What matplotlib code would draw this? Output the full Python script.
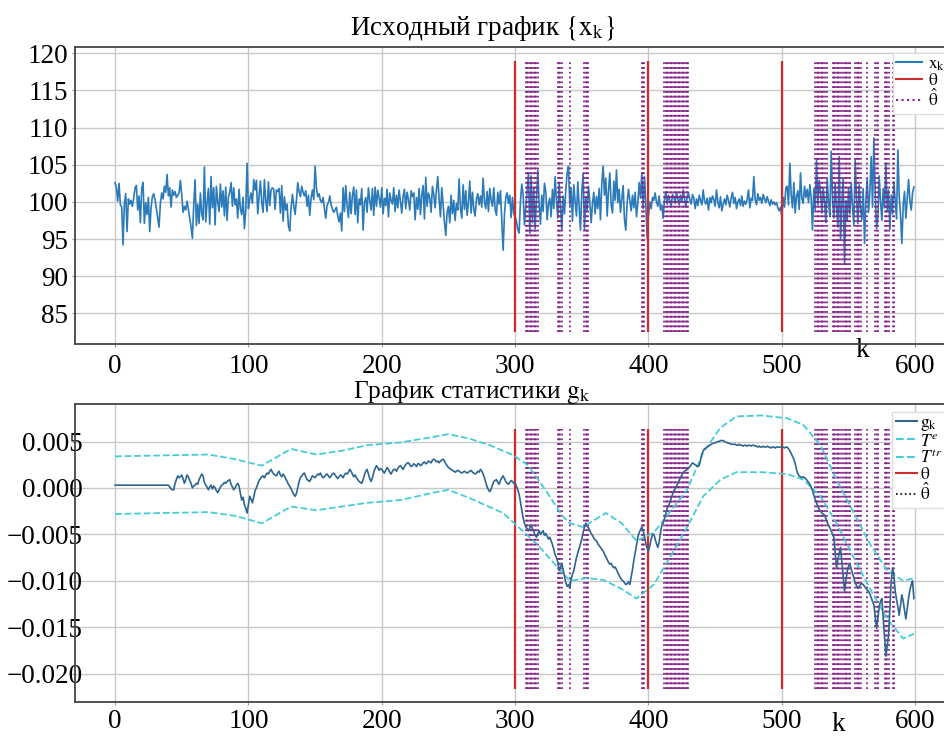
import numpy as np
import matplotlib
matplotlib.use("Agg")
import matplotlib.pyplot as plt
from matplotlib.lines import Line2D

plt.rcParams['font.family'] = ['Liberation Serif', 'DejaVu Serif']
plt.rcParams['mathtext.fontset'] = 'stix'
plt.rcParams['axes.unicode_minus'] = True

# ---- observed series x_k, k = 0..599 ----
x_values = [
    102.6, 101.9, 100.1, 102.5, 99.6, 99.3, 94.2, 99.8, 101.1, 96.0, 100.4, 99.7, 100.2, 99.4, 100.5, 101.9, 102.2, 98.9, 100.8, 97.2,
    101.8, 102.6, 97.1, 99.9, 98.3, 100.6, 96.0, 99.2, 100.7, 101.1, 100.3, 99.1, 97.9, 96.6, 99.8, 101.2, 100.4, 102.1, 101.3, 103.7,
    100.8, 101.9, 99.3, 101.6, 100.9, 101.4, 100.6, 100.9, 101.2, 102.9, 101.0, 98.6, 99.4, 98.9, 100.1, 99.0, 97.8, 96.6, 95.1, 99.5,
    103.0, 96.8, 99.7, 97.1, 101.2, 98.4, 97.6, 104.7, 97.3, 99.9, 101.8, 97.0, 103.4, 99.2, 101.9, 96.9, 102.1, 100.0, 98.7, 102.4,
    99.3, 101.5, 98.1, 102.0, 97.5, 100.6, 101.3, 102.6, 99.4, 101.9, 99.6, 100.4, 97.8, 101.7, 99.0, 98.3, 100.6, 96.4, 98.8, 105.2,
    99.1, 100.3, 101.2, 99.8, 103.0, 101.6, 102.9, 98.4, 100.8, 102.8, 99.9, 98.6, 103.0, 100.2, 98.7, 102.7, 99.5, 101.6, 101.9, 101.7,
    99.0, 101.6, 101.4, 101.8, 98.5, 102.2, 97.4, 100.7, 98.9, 99.7, 96.8, 96.1, 99.2, 101.0, 99.5, 98.3, 100.2, 102.6, 101.4, 100.7,
    102.1, 101.3, 100.8, 101.5, 99.4, 100.9, 98.2, 100.5, 101.6, 100.3, 104.8, 101.9, 100.7, 101.1, 100.2, 99.9, 100.6, 99.1, 97.8, 99.6,
    99.9, 100.8, 99.7, 99.0, 98.6, 98.9, 99.3, 98.1, 97.3, 98.5, 96.1, 101.9, 98.7, 102.2, 99.5, 97.9, 101.3, 98.4, 100.9, 102.0,
    98.3, 101.6, 97.2, 100.4, 99.6, 101.8, 96.2, 99.9, 100.6, 98.6, 101.9, 100.2, 98.9, 101.8, 98.2, 102.0, 99.4, 101.6, 100.5, 99.3,
    101.9, 98.4, 100.5, 99.5, 101.7, 98.0, 101.2, 100.2, 99.7, 101.9, 98.7, 100.9, 99.2, 101.6, 100.0, 98.5, 100.8, 101.7, 99.1, 101.3,
    100.3, 98.9, 101.5, 100.7, 101.2, 97.6, 100.6, 99.0, 101.8, 98.3, 100.9, 102.2, 97.7, 103.3, 99.4, 101.2, 100.5, 98.6, 102.1, 101.0,
    99.2, 101.6, 103.4, 100.4, 98.0, 101.9, 99.5, 97.3, 95.5, 98.6, 99.4, 97.2, 100.9, 98.4, 100.2, 97.5, 99.8, 98.9, 103.1, 99.2,
    97.8, 102.3, 99.0, 101.5, 98.2, 99.9, 102.8, 98.5, 101.3, 99.0, 98.1, 100.4, 101.1, 99.6, 100.8, 99.3, 103.2, 100.0, 99.1, 101.4,
    98.7, 101.8, 100.2, 99.4, 101.9, 99.0, 98.2, 101.3, 99.7, 101.5, 97.5, 93.5, 98.3, 100.6, 101.2, 99.8, 100.9, 97.9, 100.6, 98.4,
    98.0, 97.4, 96.3, 95.8, 100.1, 102.4, 100.9, 96.9, 99.3, 101.6, 103.9, 95.8, 103.5, 97.2, 101.8, 96.4, 100.4, 104.3, 99.6, 97.0,
    100.9, 98.7, 102.5, 101.4, 97.6, 99.8, 100.5, 98.0, 101.7, 99.1, 103.4, 100.2, 97.8, 102.6, 99.3, 96.2, 100.8, 98.4, 101.6, 103.9,
    104.8, 99.5, 101.9, 97.4, 102.3, 100.0, 98.1, 102.7, 99.3, 96.2, 101.4, 103.9, 96.2, 100.6, 98.9, 102.1, 100.0, 97.2, 99.8, 101.3,
    98.4, 100.7, 99.1, 101.8, 97.6, 102.5, 104.8, 100.9, 103.2, 98.1, 101.5, 103.9, 99.6, 98.5, 102.8, 100.2, 104.3, 99.9, 101.7, 98.6,
    100.4, 102.2, 97.6, 96.2, 99.9, 101.7, 100.3, 98.8, 100.9, 99.2, 101.3, 98.0, 99.8, 102.6, 100.5, 103.9, 99.1, 103.4, 99.6, 95.1,
    98.2, 100.0, 99.1, 100.6, 100.2, 101.2, 100.0, 99.4, 100.8, 98.9, 99.6, 97.8, 100.3, 101.4, 99.7, 100.9, 100.2, 99.4, 101.0, 100.6,
    99.8, 101.3, 100.4, 99.6, 100.9, 100.1, 101.6, 100.4, 99.3, 100.7, 101.2, 100.3, 99.7, 101.0, 100.5, 99.1, 100.4, 99.5, 100.9, 100.2,
    99.6, 101.6, 100.1, 99.7, 100.5, 98.9, 100.6, 99.9, 100.8, 100.3, 99.4, 101.6, 100.0, 99.2, 100.7, 98.8, 99.7, 100.4, 99.6, 100.9,
    100.2, 99.3, 100.5, 101.3, 99.8, 100.6, 99.1, 100.0, 100.4, 99.5, 100.8, 99.4, 100.1, 99.7, 100.3, 101.6, 99.2, 100.5, 100.2, 103.4,
    100.3, 99.6, 101.1, 100.2, 100.6, 99.8, 101.0, 100.4, 99.9, 100.7, 100.1, 99.5, 100.3, 99.7, 100.0, 99.6, 99.9, 99.2, 98.8, 99.3,
    98.0, 100.6, 99.3, 101.9, 102.1, 99.6, 105.2, 101.0, 99.2, 102.6, 98.5, 100.8, 101.5, 99.0, 103.9, 100.4, 99.8, 102.1, 100.6, 101.7,
    99.9, 102.3, 100.5, 96.2, 101.8, 98.9, 105.7, 99.6, 102.9, 101.4, 98.5, 101.8, 100.1, 97.2, 103.1, 99.9, 98.0, 106.8, 100.3, 97.8,
    102.5, 99.2, 96.6, 106.1, 94.9, 99.8, 103.2, 91.7, 100.2, 97.4, 101.9, 98.4, 102.6, 99.3, 96.8, 105.7, 100.4, 97.1, 102.3, 99.0,
    97.6, 101.8, 94.4, 100.2, 103.1, 98.6, 101.4, 106.1, 99.3, 108.6, 101.2, 96.4, 97.9, 103.5, 100.1, 97.5, 101.8, 99.2, 105.2, 98.7,
    101.6, 96.3, 100.9, 98.4, 102.7, 100.2, 97.7, 107.0, 100.8, 98.2, 94.4, 99.6, 101.4, 97.8, 100.5, 103.0, 100.2, 98.9, 101.2, 102.0,
]

# ---- statistic g_k (units of 1e-4), k = 0..599 ----
g_values_e4 = [3] * 40 + [
    3, 1, -1, -2, -2, 5, 9, 13, 11, 12, 14, 10, 5, 9, 14, 12, 8, 5, 0, 2,
    3, 5, 4, 9, 12, 15, 13, 6, 3, 1, -2, 1, 3, -1, 2, 0, -3, -5, -2, 1,
    3, 4, 6, 5, 7, 8, 9, 4, 1, -2, 0, 3, 5, 2, -6, -13, -10, -18, -22, -27,
    -18, -9, -12, -16, -10, -3, 0, 4, 8, 10, 12, 13, 11, 14, 16, 15, 18, 20, 17, 15,
    14, 13, 16, 18, 14, 12, 15, 13, 10, 7, 4, 2, -1, -4, -7, -9, -6, 0, 7, 11,
    13, 15, 16, 12, 9, 8, 7, 10, 13, 12, 11, 13, 15, 14, 16, 13, 11, 12, 14, 15,
    13, 11, 13, 15, 16, 14, 12, 10, 12, 14, 13, 11, 14, 16, 15, 17, 20, 18, 15, 12,
    14, 11, 9, 7, 6, 5, 9, 14, 18, 20, 15, 10, 7, 11, 17, 21, 24, 22, 19, 21,
    20, 18, 16, 19, 22, 20, 17, 15, 18, 20, 20, 18, 21, 23, 24, 22, 20, 23, 25, 27,
    27, 25, 23, 24, 26, 25, 23, 26, 26, 24, 25, 27, 28, 26, 27, 29, 28, 27, 30, 31,
    30, 28, 29, 27, 29, 30, 31, 29, 26, 24, 22, 21, 20, 19, 18, 17, 18, 19, 18, 17,
    16, 17, 18, 17, 16, 17, 18, 19, 17, 16, 15, 16, 18, 17, 20, 18, 15, 11, 6, 1,
    -2, -4, -1, 3, 7, 8, 9, 6, 4, 8, 11, 13, 10, 7, 5, 4, 6, 8, 7, 5,
    5, 2, -2, -7, -15, -24, -32, -38, -42, -44, -46, -43, -40, -44, -47, -51, -53, -49, -46, -50,
    -48, -46, -51, -49, -52, -55, -53, -57, -61, -66, -72, -75, -80, -89, -85, -82, -88, -95, -102, -106,
    -104, -108, -98, -93, -89, -82, -75, -70, -65, -60, -55, -48, -42, -38, -41, -43, -46, -49, -51, -54,
    -56, -57, -60, -62, -64, -66, -68, -71, -74, -77, -80, -82, -81, -84, -86, -85, -88, -91, -94, -97,
    -99, -100, -102, -104, -103, -101, -104, -96, -88, -78, -70, -62, -53, -48, -45, -42, -46, -52, -60, -65,
    -68, -62, -55, -50, -50, -55, -60, -64, -58, -48, -40, -38, -33, -28, -22, -19, -16, -11, -7, -3,
    -1, 2, 5, 8, 11, 14, 16, 18, 19, 20, 21, 23, 25, 27, 26, 25, 24, 23, 24, 30,
    36, 40, 42, 43, 44, 45, 46, 47, 48, 48, 49, 49, 50, 50, 51, 51, 51, 50, 49, 49,
    48, 48, 47, 47, 47, 47, 46, 46, 47, 46, 46, 45, 46, 46, 45, 46, 46, 45, 46, 46,
    45, 45, 44, 45, 44, 44, 45, 44, 44, 45, 44, 44, 43, 44, 44, 43, 44, 44, 44, 44,
    44, 44, 43, 44, 44, 42, 40, 37, 34, 31, 26, 20, 15, 13, 12, 11, 12, 11, 10, 8,
    6, 4, 1, -3, -8, -12, -16, -20, -23, -25, -27, -28, -29, -33, -37, -40, -43, -46, -50, -53,
    -70, -86, -78, -70, -64, -80, -95, -111, -100, -90, -84, -82, -87, -92, -97, -102, -105, -108, -106, -104,
    -103, -104, -106, -108, -110, -111, -114, -118, -122, -126, -138, -151, -140, -128, -122, -119, -140, -160, -181, -170,
    -159, -130, -100, -86, -95, -111, -120, -128, -137, -126, -115, -122, -132, -141, -130, -119, -110, -104, -100, -119,
]

# ---- thresholds (units of 1e-4) at selected k ----
te_k = [0, 70, 90, 110, 132, 151, 170, 189, 214, 239, 250, 266, 281, 299, 310, 324, 336, 341, 351, 368,
        380, 391, 404, 416, 429, 441, 454, 466, 485, 504, 516, 529, 541, 554, 566, 579, 591, 599]
te_e4 = [34, 36, 31, 24, 42, 36, 40, 46, 49, 55, 58, 53, 46, 35, 24, -5, -31, -38, -42, -27,
         -38, -57, -48, -26, -2, 38, 65, 77, 78, 75, 68, 46, 9, -27, -60, -89, -100, -97]
ttr_k = [0, 70, 90, 110, 132, 151, 170, 189, 214, 239, 250, 266, 291, 316, 341, 354, 366, 379, 391, 404,
         416, 429, 441, 454, 466, 485, 504, 516, 529, 541, 554, 566, 579, 591, 599]
ttr_e4 = [-28, -26, -30, -38, -20, -24, -20, -16, -13, -5, -2, -11, -27, -60, -100, -97, -99, -108, -119, -104,
          -75, -42, -9, 9, 17, 17, 15, 9, -9, -38, -75, -108, -141, -162, -157]

# ---- true and estimated change points ----
theta = [300, 400, 500]
theta_hat = (list(range(308, 318)) + list(range(332, 336)) + [341] + list(range(352, 356))
             + list(range(395, 398)) + list(range(412, 431)) + list(range(525, 533)) + [534]
             + list(range(538, 545)) + list(range(546, 552)) + list(range(555, 560)) + [564]
             + list(range(570, 573)) + list(range(577, 581)) + [583, 584])

x = np.array(x_values)
k = np.arange(len(x))
g = np.array(g_values_e4) * 1e-4
kg = np.arange(len(g))
te = np.array(te_e4) * 1e-4
ttr = np.array(ttr_e4) * 1e-4

FS = 19.5
LFS = 12.5
RED = '#d02a2a'
CYAN = '#45cdd6'
HAT = '#87248a'

fig = plt.figure(figsize=(9.45, 7.4), dpi=100)
ax1 = fig.add_axes([0.0794, 0.5347, 0.930, 0.4014])
ax2 = fig.add_axes([0.0794, 0.0518, 0.930, 0.4018])

for ax in (ax1, ax2):
    ax.set_facecolor('white')
    ax.grid(True, color='#c8c8c8', lw=1.0)
    ax.set_axisbelow(True)
    for s in ax.spines.values():
        s.set_color('#444444')
        s.set_linewidth(1.3)
    ax.tick_params(labelsize=FS, length=2, width=0.8, color='#999999', pad=3)
    ax.set_xlim(-30, 629)
    ax.set_xticks(range(0, 601, 100))
ax1.tick_params(axis='x', pad=5)
# bottom y labels sit over the left spine
ax2.tick_params(axis='y', pad=-7.8)

# top panel
ax1.plot(k, x, color='#2b7bba', lw=1.2, zorder=2)
ax1.vlines(theta, 82.5, 119.0, colors=RED, lw=1.6, zorder=3)
ax1.vlines(theta_hat, 82.5, 119.0, colors=HAT, linestyles=':', lw=1.3, zorder=4)
ax1.set_ylim(80.84, 120.8)
ax1.set_yticks(range(85, 121, 5))
ax1.text(0.464, 1.041, r'Исходный график $\left\{\mathrm{x_k}\right\}$', transform=ax1.transAxes,
         ha='center', va='baseline', fontsize=FS)
ax1.set_xlabel('k', fontsize=FS)
ax1.xaxis.set_label_coords(0.896, 0.02)
h1 = [Line2D([], [], color='#2b7bba', lw=1.5),
      Line2D([], [], color=RED, lw=1.5),
      Line2D([], [], color=HAT, ls=':', lw=1.5)]
ax1.legend(h1, [r'$\mathrm{x_k}$', r'$\mathrm{\theta}$', r'$\hat{\mathrm{\theta}}$'],
           loc='upper left', bbox_to_anchor=(0.9306, 0.981), fontsize=LFS,
           labelspacing=0.0, handlelength=1.5, handletextpad=0.3, borderpad=0.2,
           borderaxespad=0.0, framealpha=1.0, edgecolor='#dddddd', fancybox=False)

# bottom panel
ax2.vlines(theta, -0.0216, 0.0063, colors=RED, lw=1.6, zorder=2)
ax2.vlines(theta_hat, -0.0216, 0.0063, colors=HAT, linestyles=':', lw=1.3, zorder=2)
ax2.plot(te_k, te, color=CYAN, ls='--', lw=1.3, zorder=3)
ax2.plot(ttr_k, ttr, color=CYAN, ls='--', lw=1.3, zorder=3)
ax2.plot(kg, g, color='#2f6690', lw=1.2, zorder=4)
ax2.set_ylim(-0.0230, 0.0090)
ax2.set_yticks([-0.020, -0.015, -0.010, -0.005, 0.000, 0.005])
ax2.text(0.452, 1.022, r'График статистики $\mathrm{g_k}$', transform=ax2.transAxes,
         ha='center', va='baseline', fontsize=18.3)
ax2.set_xlabel('k', fontsize=FS)
ax2.xaxis.set_label_coords(0.869, -0.035)
h2 = [Line2D([], [], color='#2f6690', lw=1.5),
      Line2D([], [], color=CYAN, ls='--', lw=1.5),
      Line2D([], [], color=CYAN, ls='--', lw=1.5),
      Line2D([], [], color=RED, lw=1.5),
      Line2D([], [], color='black', ls=':', lw=1.2)]
ax2.legend(h2, [r'$\mathrm{g_k}$', r'$T^e$', r'$T^{tr}$', r'$\mathrm{\theta}$', r'$\hat{\mathrm{\theta}}$'],
           loc='upper left', bbox_to_anchor=(0.930, 0.975), fontsize=LFS,
           labelspacing=0.0, handlelength=1.2, handletextpad=0.2, borderpad=0.2,
           borderaxespad=0.0, framealpha=1.0, edgecolor='#dddddd', fancybox=False)

fig.savefig('out.png', dpi=100)
